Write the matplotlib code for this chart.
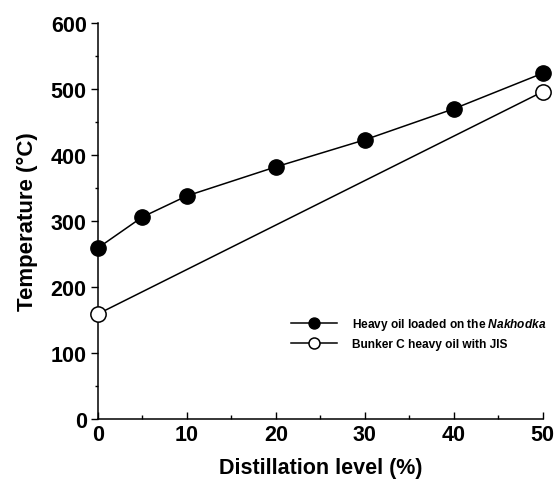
import matplotlib
matplotlib.use("Agg")
import matplotlib.pyplot as plt
from matplotlib.ticker import MultipleLocator

plt.rcParams['font.family'] = ['Liberation Sans', 'DejaVu Sans']
plt.rcParams['mathtext.fontset'] = 'custom'
plt.rcParams['mathtext.it'] = 'Liberation Sans:italic:bold'
plt.rcParams['mathtext.rm'] = 'Liberation Sans:bold'

# distillation level (%) and temperature (deg C)
nakhodka_x = [0, 5, 10, 20, 30, 40, 50]
nakhodka_y = [259, 306, 338, 382, 423, 470, 524]
bunker_x = [0, 50]
bunker_y = [159, 496]

fig = plt.figure(figsize=(5.59, 4.81), dpi=100)
ax = fig.add_axes([0.175, 0.127, 0.796, 0.823])

ax.plot(nakhodka_x, nakhodka_y, color='black', lw=1.1, marker='o', ms=11,
        mfc='black', mec='black', clip_on=False, zorder=3,
        label='Heavy oil loaded on the $\\mathit{Nakhodka}$')
ax.plot(bunker_x, bunker_y, color='black', lw=1.1, marker='o', ms=11,
        mfc='white', mec='black', mew=1.1, clip_on=False, zorder=3,
        label='Bunker C heavy oil with JIS')

ax.set_xlim(0, 50)
ax.set_ylim(0, 600)
ax.xaxis.set_major_locator(MultipleLocator(10))
ax.xaxis.set_minor_locator(MultipleLocator(5))
ax.yaxis.set_major_locator(MultipleLocator(100))
ax.yaxis.set_minor_locator(MultipleLocator(50))

for s in ['top', 'right']:
    ax.spines[s].set_visible(False)
for s in ['left', 'bottom']:
    ax.spines[s].set_linewidth(1.1)

ax.tick_params(axis='x', which='both', direction='in', width=1)
ax.tick_params(axis='x', which='major', length=5, pad=4)
ax.tick_params(axis='x', which='minor', length=3)
ax.tick_params(axis='y', which='both', direction='out', width=1)
ax.tick_params(axis='y', which='major', length=5, pad=3)
ax.tick_params(axis='y', which='minor', length=2)

for lbl in ax.get_xticklabels() + ax.get_yticklabels():
    lbl.set_fontsize(15.5)
    lbl.set_fontweight('bold')

ax.set_xlabel('Distillation level (%)', fontsize=15.5, fontweight='bold', labelpad=8)
ax.set_ylabel('Temperature (\u00b0C)', fontsize=16, fontweight='bold', labelpad=9)

leg = ax.legend(loc='center left', bbox_to_anchor=(0.424, 0.217), frameon=False,
                prop={'size': 8.6, 'weight': 'bold'}, handlelength=3.8,
                handletextpad=1.3, labelspacing=0.5, markerscale=0.72,
                borderaxespad=0)

fig.savefig('out.png', dpi=100)
